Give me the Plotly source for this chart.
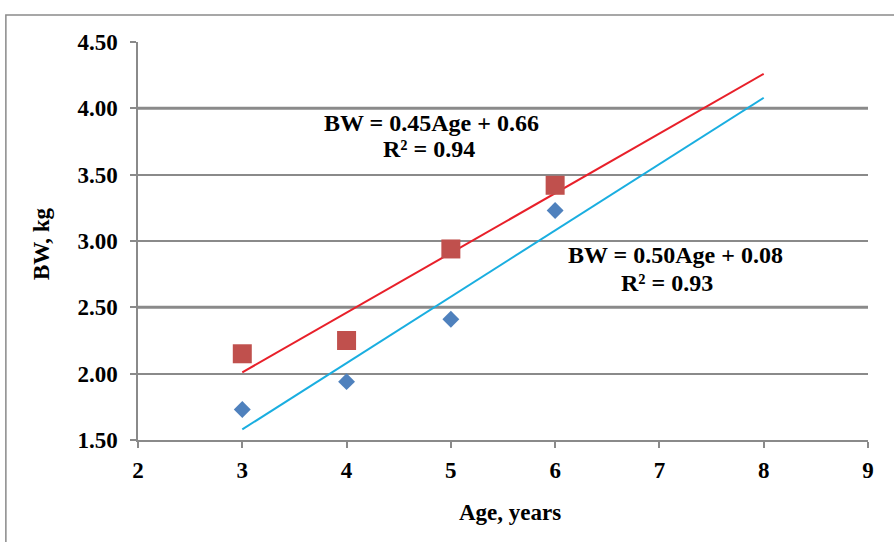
import plotly.graph_objects as go

# Data
age = [3, 4, 5, 6]
bw_red = [2.15, 2.25, 2.94, 3.42]
bw_blue = [1.73, 1.94, 2.41, 3.23]
fit_x = [3, 8]
red_slope, red_intercept = 0.45, 0.66
blue_slope, blue_intercept = 0.50, 0.08
eq_red = ["BW = 0.45Age + 0.66", "R² = 0.94"]
eq_blue = ["BW = 0.50Age + 0.08", "R² = 0.93"]
x_ticks = [2, 3, 4, 5, 6, 7, 8, 9]
y_ticks = [1.5, 2.0, 2.5, 3.0, 3.5, 4.0, 4.5]
y_ticklabels = ["1.50", "2.00", "2.50", "3.00", "3.50", "4.00", "4.50"]
thick_grid = [2.5, 4.0]
x_title = "Age, years"
y_title = "BW, kg"

FONT = "Liberation Serif"
GRID = "#8a8a8a"

fig = go.Figure()

fig.add_trace(go.Scatter(
    x=fit_x, y=[red_slope * v + red_intercept for v in fit_x],
    mode="lines", line=dict(color="#E8202A", width=2), showlegend=False))
fig.add_trace(go.Scatter(
    x=fit_x, y=[blue_slope * v + blue_intercept for v in fit_x],
    mode="lines", line=dict(color="#1AAEE0", width=2), showlegend=False))
fig.add_trace(go.Scatter(
    x=age, y=bw_red, mode="markers",
    marker=dict(symbol="square", size=19, color="#C0504D"), showlegend=False))
fig.add_trace(go.Scatter(
    x=age, y=bw_blue, mode="markers",
    marker=dict(symbol="diamond", size=13, color="#4F81BD"), showlegend=False))

shapes = []
for g in thick_grid:
    shapes.append(dict(type="line", xref="x", yref="y", x0=2, x1=9, y0=g, y1=g,
                       line=dict(color=GRID, width=3), layer="below"))
# outer frame
shapes.append(dict(type="rect", xref="paper", yref="paper",
                   x0=-0.181, x1=1.06, y0=-0.3, y1=1.068,
                   line=dict(color=GRID, width=1.5), layer="below"))

eqfont = dict(family=FONT, size=24, weight="bold", color="black")
titlefont = dict(family=FONT, size=23, weight="bold", color="black")

annotations = [
    dict(x=4.81, y=3.89, xref="x", yref="y", showarrow=False, text=eq_red[0], font=eqfont),
    dict(x=4.79, y=3.69, xref="x", yref="y", showarrow=False, text=eq_red[1], font=eqfont),
    dict(x=7.15, y=2.894, xref="x", yref="y", showarrow=False, text=eq_blue[0], font=eqfont),
    dict(x=7.07, y=2.683, xref="x", yref="y", showarrow=False, text=eq_blue[1], font=eqfont),
    dict(x=0.5096, y=-0.181, xref="paper", yref="paper", showarrow=False,
         text=x_title, font=titlefont, xanchor="center", yanchor="middle"),
    dict(x=-0.1315, y=0.4925, xref="paper", yref="paper", showarrow=False,
         text=y_title, font=titlefont, textangle=-90, xanchor="center", yanchor="middle"),
]

fig.update_layout(
    width=894, height=542,
    margin=dict(l=138, r=26, t=42, b=102),
    plot_bgcolor="white", paper_bgcolor="white",
    shapes=shapes,
    font=dict(family=FONT, color="black"),
    annotations=annotations,
)

tickfont = dict(family=FONT, size=23, weight="bold", color="black")

fig.update_xaxes(
    range=[2, 9], tickvals=x_ticks, ticktext=[str(v) for v in x_ticks],
    showline=True, linecolor=GRID, linewidth=1.5,
    ticks="outside", ticklen=6, tickcolor=GRID, tickwidth=1.5,
    showgrid=False, zeroline=False, ticklabelstandoff=3,
    tickfont=tickfont,
)
fig.update_yaxes(
    range=[1.5, 4.5], tickvals=y_ticks, ticktext=y_ticklabels,
    showline=True, linecolor=GRID, linewidth=1.5,
    ticks="outside", ticklen=6, tickcolor=GRID, tickwidth=1.5,
    showgrid=True, gridcolor=GRID, gridwidth=1.5, zeroline=False,
    ticklabelstandoff=8,
    tickfont=tickfont,
)

fig.write_html("out.html")
